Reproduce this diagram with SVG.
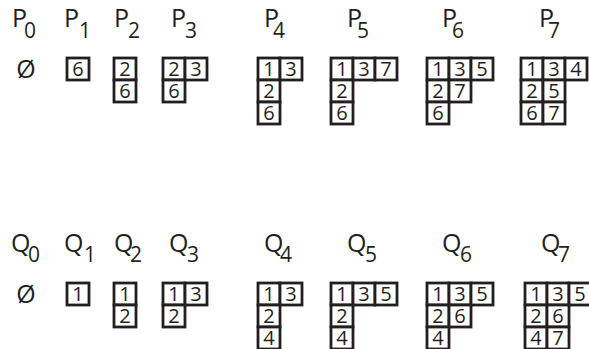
<svg xmlns="http://www.w3.org/2000/svg" width="589" height="349" viewBox="0 0 589 349">
<style>
.c{fill:#fff;stroke:#231f20;stroke-width:2.8}
.d{font-family:"Open Sans","Liberation Sans",sans-serif;font-size:20px;fill:#231f20;text-anchor:middle}
.l{font-family:"Open Sans","Liberation Sans",sans-serif;font-size:25px;fill:#231f20}
.s{font-family:"Open Sans","Liberation Sans",sans-serif;font-size:21px;fill:#231f20}
.e{font-family:"Open Sans","Liberation Sans",sans-serif;font-size:25px;fill:#231f20;text-anchor:middle}
</style>
<defs>
<rect id="cell" class="c" width="22" height="22"/>
</defs>
<g id="labels">
<text class="l" x="12" y="27">P</text><text class="s" x="24" y="38">0</text>
<text class="l" x="64" y="27">P</text><text class="s" x="79" y="38">1</text>
<text class="l" x="114" y="27">P</text><text class="s" x="128" y="38">2</text>
<text class="l" x="171" y="27">P</text><text class="s" x="185" y="38">3</text>
<text class="l" x="264" y="27">P</text><text class="s" x="273" y="38">4</text>
<text class="l" x="347" y="27">P</text><text class="s" x="357" y="38">5</text>
<text class="l" x="442" y="27">P</text><text class="s" x="452" y="38">6</text>
<text class="l" x="539" y="27">P</text><text class="s" x="548" y="38">7</text>
<text class="l" x="11" y="252">Q</text><text class="s" x="28" y="262">0</text>
<text class="l" x="64" y="252">Q</text><text class="s" x="84" y="262">1</text>
<text class="l" x="114" y="252">Q</text><text class="s" x="130" y="262">2</text>
<text class="l" x="169" y="252">Q</text><text class="s" x="187" y="262">3</text>
<text class="l" x="264" y="252">Q</text><text class="s" x="280" y="262">4</text>
<text class="l" x="347" y="252">Q</text><text class="s" x="365" y="262">5</text>
<text class="l" x="442" y="252">Q</text><text class="s" x="460" y="262">6</text>
<text class="l" x="541" y="252">Q</text><text class="s" x="558" y="262">7</text>
</g>
<g id="P0"><text class="e" x="26" y="78">Ø</text></g>
<g id="P1">
<use href="#cell" x="67" y="58"/><text class="d" x="78" y="76">6</text>
</g>
<g id="P2">
<use href="#cell" x="114" y="58"/><text class="d" x="125" y="76">2</text>
<use href="#cell" x="114" y="80"/><text class="d" x="125" y="98">6</text>
</g>
<g id="P3">
<use href="#cell" x="163" y="58"/><text class="d" x="174" y="76">2</text>
<use href="#cell" x="185" y="58"/><text class="d" x="196" y="76">3</text>
<use href="#cell" x="163" y="80"/><text class="d" x="174" y="98">6</text>
</g>
<g id="P4">
<use href="#cell" x="258" y="58"/><text class="d" x="269" y="76">1</text>
<use href="#cell" x="280" y="58"/><text class="d" x="291" y="76">3</text>
<use href="#cell" x="258" y="80"/><text class="d" x="269" y="98">2</text>
<use href="#cell" x="258" y="102"/><text class="d" x="269" y="120">6</text>
</g>
<g id="P5">
<use href="#cell" x="331" y="58"/><text class="d" x="342" y="76">1</text>
<use href="#cell" x="353" y="58"/><text class="d" x="364" y="76">3</text>
<use href="#cell" x="375" y="58"/><text class="d" x="386" y="76">7</text>
<use href="#cell" x="331" y="80"/><text class="d" x="342" y="98">2</text>
<use href="#cell" x="331" y="102"/><text class="d" x="342" y="120">6</text>
</g>
<g id="P6">
<use href="#cell" x="427" y="58"/><text class="d" x="438" y="76">1</text>
<use href="#cell" x="449" y="58"/><text class="d" x="460" y="76">3</text>
<use href="#cell" x="471" y="58"/><text class="d" x="482" y="76">5</text>
<use href="#cell" x="427" y="80"/><text class="d" x="438" y="98">2</text>
<use href="#cell" x="449" y="80"/><text class="d" x="460" y="98">7</text>
<use href="#cell" x="427" y="102"/><text class="d" x="438" y="120">6</text>
</g>
<g id="P7">
<use href="#cell" x="521" y="58"/><text class="d" x="532" y="76">1</text>
<use href="#cell" x="543" y="58"/><text class="d" x="554" y="76">3</text>
<use href="#cell" x="565" y="58"/><text class="d" x="576" y="76">4</text>
<use href="#cell" x="521" y="80"/><text class="d" x="532" y="98">2</text>
<use href="#cell" x="543" y="80"/><text class="d" x="554" y="98">5</text>
<use href="#cell" x="521" y="102"/><text class="d" x="532" y="120">6</text>
<use href="#cell" x="543" y="102"/><text class="d" x="554" y="120">7</text>
</g>
<g id="Q0"><text class="e" x="26" y="303">Ø</text></g>
<g id="Q1">
<use href="#cell" x="67" y="283"/><text class="d" x="78" y="301">1</text>
</g>
<g id="Q2">
<use href="#cell" x="114" y="283"/><text class="d" x="125" y="301">1</text>
<use href="#cell" x="114" y="305"/><text class="d" x="125" y="323">2</text>
</g>
<g id="Q3">
<use href="#cell" x="163" y="283"/><text class="d" x="174" y="301">1</text>
<use href="#cell" x="185" y="283"/><text class="d" x="196" y="301">3</text>
<use href="#cell" x="163" y="305"/><text class="d" x="174" y="323">2</text>
</g>
<g id="Q4">
<use href="#cell" x="258" y="283"/><text class="d" x="269" y="301">1</text>
<use href="#cell" x="280" y="283"/><text class="d" x="291" y="301">3</text>
<use href="#cell" x="258" y="305"/><text class="d" x="269" y="323">2</text>
<use href="#cell" x="258" y="327"/><text class="d" x="269" y="345">4</text>
</g>
<g id="Q5">
<use href="#cell" x="331" y="283"/><text class="d" x="342" y="301">1</text>
<use href="#cell" x="353" y="283"/><text class="d" x="364" y="301">3</text>
<use href="#cell" x="375" y="283"/><text class="d" x="386" y="301">5</text>
<use href="#cell" x="331" y="305"/><text class="d" x="342" y="323">2</text>
<use href="#cell" x="331" y="327"/><text class="d" x="342" y="345">4</text>
</g>
<g id="Q6">
<use href="#cell" x="427" y="283"/><text class="d" x="438" y="301">1</text>
<use href="#cell" x="449" y="283"/><text class="d" x="460" y="301">3</text>
<use href="#cell" x="471" y="283"/><text class="d" x="482" y="301">5</text>
<use href="#cell" x="427" y="305"/><text class="d" x="438" y="323">2</text>
<use href="#cell" x="449" y="305"/><text class="d" x="460" y="323">6</text>
<use href="#cell" x="427" y="327"/><text class="d" x="438" y="345">4</text>
</g>
<g id="Q7">
<use href="#cell" x="525" y="283"/><text class="d" x="536" y="301">1</text>
<use href="#cell" x="547" y="283"/><text class="d" x="558" y="301">3</text>
<use href="#cell" x="569" y="283"/><text class="d" x="580" y="301">5</text>
<use href="#cell" x="525" y="305"/><text class="d" x="536" y="323">2</text>
<use href="#cell" x="547" y="305"/><text class="d" x="558" y="323">6</text>
<use href="#cell" x="525" y="327"/><text class="d" x="536" y="345">4</text>
<use href="#cell" x="547" y="327"/><text class="d" x="558" y="345">7</text>
</g>
</svg>
